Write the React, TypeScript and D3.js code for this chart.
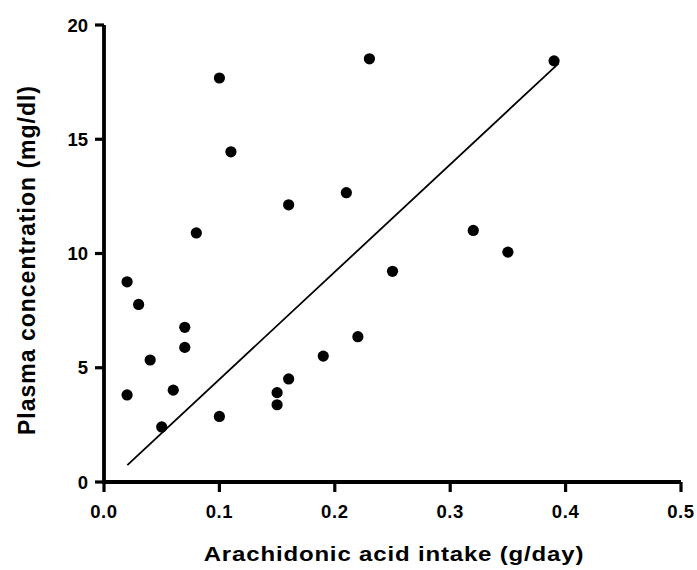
import React from "react";
import * as d3 from "d3";

// arachidonic acid intake (g/day) and plasma concentration (mg/dl)
const intake = [
  0.02, 0.02, 0.03, 0.04, 0.05, 0.06, 0.07, 0.07, 0.08, 0.1, 0.1, 0.11,
  0.15, 0.15, 0.16, 0.16, 0.19, 0.21, 0.22, 0.23, 0.25, 0.32, 0.35, 0.39,
];
const plasma = [
  8.76, 3.81, 7.77, 5.34, 2.41, 4.02, 6.77, 5.89, 10.9, 17.68, 2.87, 14.45,
  3.91, 3.38, 12.13, 4.51, 5.51, 12.66, 6.36, 18.52, 9.22, 11.01, 10.06, 18.43,
];

// regression line end points
const fitX = [0.0202, 0.394];
const fitY = [0.74, 18.32];

const xTicks = [0, 0.1, 0.2, 0.3, 0.4, 0.5];
const yTicks = [0, 5, 10, 15, 20];

export default function App() {
  const width = 697,
    height = 570;

  const x = d3.scaleLinear().domain([0, 0.5]).range([104, 681]);
  const y = d3.scaleLinear().domain([0, 20]).range([482, 25]);

  const fitLine = d3
    .line<number>()
    .x((d) => x(d))
    .y((d, i) => y(fitY[i]))(fitX);

  const font = "'Liberation Sans', Arial, sans-serif";

  return (
    <div style={{ position: "absolute", left: 0, top: 0 }}>
      <svg width={width} height={height} style={{ display: "block" }}>
        <rect width={width} height={height} fill="#fff" />

        {/* axes */}
        <path
          d={`M${x(0)},${y(20)}V${y(0)}H${x(0.5)}`}
          fill="none"
          stroke="#000"
          strokeWidth={3.8}
        />
        {yTicks.map((t) => (
          <g key={"y" + t}>
            <line
              x1={x(0) - 9}
              x2={x(0)}
              y1={y(t)}
              y2={y(t)}
              stroke="#000"
              strokeWidth={3.2}
            />
            <text
              x={x(0) - 16}
              y={y(t)}
              dy="0.36em"
              textAnchor="end"
              fontFamily={font}
              fontWeight="bold"
              fontSize={18.5}
            >
              {t}
            </text>
          </g>
        ))}
        {xTicks.map((t) => (
          <g key={"x" + t}>
            <line
              x1={x(t)}
              x2={x(t)}
              y1={y(0)}
              y2={y(0) + 10}
              stroke="#000"
              strokeWidth={3.2}
            />
            <text
              x={x(t)}
              y={518}
              textAnchor="middle"
              fontFamily={font}
              fontWeight="bold"
              fontSize={18.5}
              letterSpacing={0.6}
            >
              {d3.format(".1f")(t)}
            </text>
          </g>
        ))}

        {/* titles */}
        <g transform="translate(394,561) scale(1.2,1)">
          <text
            textAnchor="middle"
            fontFamily={font}
            fontWeight="bold"
            fontSize={20}
            letterSpacing={0.7}
          >
            Arachidonic acid intake (g/day)
          </text>
        </g>
        <text
          transform="translate(35,260) rotate(-90)"
          textAnchor="middle"
          fontFamily={font}
          fontWeight="bold"
          fontSize={23}
          letterSpacing={1}
        >
          Plasma concentration (mg/dl)
        </text>

        {/* fit line */}
        <path d={fitLine ?? ""} fill="none" stroke="#000" strokeWidth={1.8} />

        {/* points */}
        {intake.map((d, i) => (
          <circle key={i} cx={x(d)} cy={y(plasma[i])} r={5.6} fill="#000" />
        ))}
      </svg>
    </div>
  );
}
